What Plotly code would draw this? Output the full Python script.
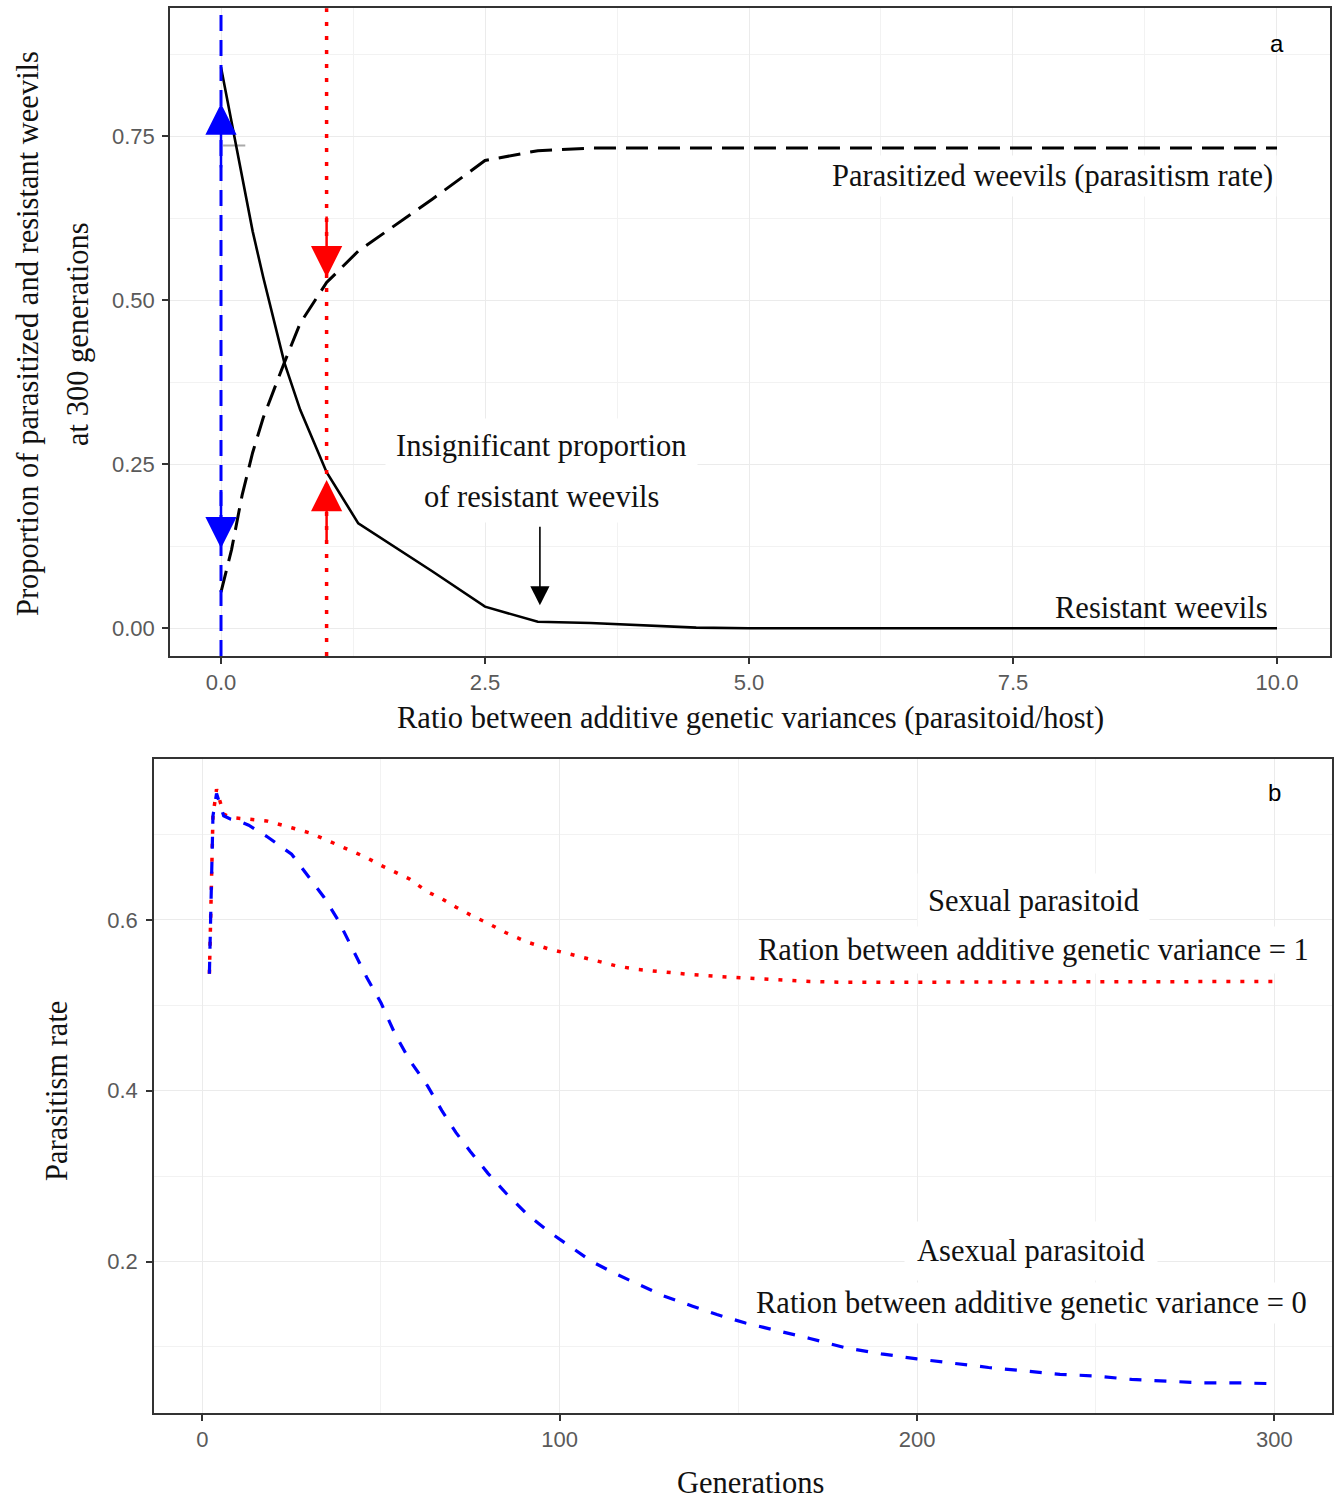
import plotly.graph_objects as go

# ---------------- Panel a data ----------------
ratio = [0, 0.1, 0.2, 0.3, 0.4, 0.5, 0.6, 0.75, 1.0, 1.3, 2.0, 2.5, 3.0, 3.5, 4.0, 4.5,
         5.0, 6.0, 7.0, 8.0, 9.0, 10.0]
resistant = [0.855, 0.772, 0.685, 0.605, 0.535, 0.468, 0.405, 0.333, 0.238, 0.160, 0.087,
             0.033, 0.010, 0.008, 0.004, 0.001, 0.0, 0.0, 0.0, 0.0, 0.0, 0.0]
parasitized = [0.055, 0.12, 0.203, 0.268, 0.321, 0.364, 0.405, 0.465, 0.527, 0.575, 0.654,
               0.713, 0.728, 0.732, 0.732, 0.732, 0.732, 0.732, 0.732, 0.732, 0.732, 0.732]
artifact_x = [0.02, 0.23]
artifact_y = [0.736, 0.736]

vline_asexual = 0
vline_sexual = 1

# arrows: (x, tail_y, head_y)
arrows_blue = [(0, 0.70, 0.80), (0, 0.21, 0.122)]
arrows_red = [(1, 0.63, 0.535), (1, 0.132, 0.226)]
arrow_black = (3.02, 0.157, 0.035)

a_xticks = [0, 2.5, 5.0, 7.5, 10.0]
a_yticks = [0.0, 0.25, 0.5, 0.75]

# ---------------- Panel b data ----------------
generations = [2, 3, 4, 5, 6, 8, 10, 13, 18, 25, 30, 34, 38, 42, 46, 50, 54, 58, 63, 67,
               71, 75, 80, 85, 91, 97, 103, 109, 116, 122, 129, 137, 144, 152, 160, 170,
               180, 190, 200, 210, 220, 230, 240, 250, 260, 270, 280, 290, 300]
asexual = [0.537, 0.722, 0.748, 0.735, 0.722, 0.718, 0.716, 0.711, 0.698, 0.677, 0.650,
           0.627, 0.600, 0.566, 0.533, 0.503, 0.466, 0.436, 0.406, 0.377, 0.351, 0.329,
           0.303, 0.280, 0.255, 0.235, 0.218, 0.200, 0.185, 0.173, 0.160, 0.148, 0.138,
           0.128, 0.120, 0.110, 0.099, 0.092, 0.086, 0.081, 0.076, 0.072, 0.068, 0.066,
           0.062, 0.060, 0.058, 0.058, 0.057]
sexual = [0.537, 0.722, 0.753, 0.738, 0.724, 0.720, 0.719, 0.718, 0.716, 0.708, 0.702,
          0.695, 0.688, 0.680, 0.673, 0.664, 0.656, 0.648, 0.633, 0.625, 0.615, 0.606,
          0.596, 0.585, 0.574, 0.566, 0.560, 0.554, 0.546, 0.542, 0.539, 0.536, 0.534,
          0.532, 0.530, 0.528, 0.527, 0.527, 0.527, 0.527, 0.527, 0.527, 0.527, 0.527,
          0.527, 0.527, 0.528, 0.528, 0.528]
b_xticks = [0, 100, 200, 300]
b_yticks = [0.2, 0.4, 0.6]

SERIF = "Liberation Serif"
SANS = "Liberation Sans"
FS = 30.5
W, H = 1339, 1500

fig = go.Figure()

# Panel a traces
fig.add_trace(go.Scatter(x=artifact_x, y=artifact_y, mode="lines",
                         line=dict(color="#AAAAAA", width=2), xaxis="x", yaxis="y",
                         showlegend=False, hoverinfo="skip"))
fig.add_trace(go.Scatter(x=ratio, y=resistant, mode="lines",
                         line=dict(color="black", width=2.6), xaxis="x", yaxis="y",
                         showlegend=False))
fig.add_trace(go.Scatter(x=ratio, y=parasitized, mode="lines",
                         line=dict(color="black", width=3, dash="22px,10px"),
                         xaxis="x", yaxis="y", showlegend=False))

# Panel b traces
fig.add_trace(go.Scatter(x=generations, y=sexual, mode="lines",
                         line=dict(color="#FF0000", width=3.5, dash="4px,10px"),
                         xaxis="x2", yaxis="y2", showlegend=False))
fig.add_trace(go.Scatter(x=generations, y=asexual, mode="lines",
                         line=dict(color="#0000FF", width=3.2, dash="12px,13px"),
                         xaxis="x2", yaxis="y2", showlegend=False))

# vertical lines panel a
fig.add_shape(type="line", xref="x", yref="y domain", x0=vline_asexual, x1=vline_asexual,
              y0=0, y1=1, line=dict(color="#0000FF", width=3, dash="16px,9px"))
fig.add_shape(type="line", xref="x", yref="y domain", x0=vline_sexual, x1=vline_sexual,
              y0=0, y1=1, line=dict(color="#FF0000", width=3.5, dash="4px,10px"))

ann = []


def arrow(x, tail, head, color, width, size):
    return dict(x=x, y=head, ax=x, ay=tail, xref="x", yref="y", axref="x", ayref="y",
                text="", showarrow=True, arrowhead=2, arrowcolor=color,
                arrowwidth=width, arrowsize=size, standoff=0, startstandoff=0)


for (x, t, h) in arrows_blue:
    ann.append(arrow(x, t, h, "#0000FF", 2.5, 2.5))
for (x, t, h) in arrows_red:
    ann.append(arrow(x, t, h, "#FF0000", 2.5, 2.5))
ann.append(arrow(arrow_black[0], arrow_black[1], arrow_black[2], "black", 1.6, 2.4))


def label(text, x, y, xref, yref, xanchor="center", bg=None, pad=4, size=FS):
    d = dict(text=text, x=x, y=y, xref=xref, yref=yref, xanchor=xanchor, yanchor="middle",
             showarrow=False, font=dict(family=SERIF, size=size, color="#111111"),
             borderpad=pad)
    if bg:
        d["bgcolor"] = bg
    return d


ann.append(label("Parasitized weevils (parasitism rate)", 10, 0.689, "x", "y",
                 xanchor="right", bg="white", pad=3))
ann.append(label("Resistant weevils", 9.96, 0.0305, "x", "y", xanchor="right"))
ann.append(label("Insignificant proportion", 3.035, 0.2774, "x", "y", bg="white", pad=10))
ann.append(label("of resistant weevils", 3.035, 0.1997, "x", "y", bg="white", pad=8))

ann.append(label("Sexual parasitoid", 232.5, 0.6225, "x2", "y2", bg="white", pad=10))
ann.append(label("Ration between additive genetic variance = 1", 232.5, 0.565, "x2", "y2",
                 bg="white", pad=6))
ann.append(label("Asexual parasitoid", 232.0, 0.212, "x2", "y2", bg="white", pad=12))
ann.append(label("Ration between additive genetic variance = 0", 232.0, 0.152, "x2", "y2",
                 bg="white", pad=3))

# panel tags
ann.append(dict(text="a", x=10, y=0.892, xref="x", yref="y", showarrow=False,
                font=dict(family=SANS, size=24, color="black")))
ann.append(dict(text="b", x=300, y=0.7487, xref="x2", yref="y2", showarrow=False,
                font=dict(family=SANS, size=24, color="black")))

# axis titles (paper coords)
ann.append(dict(text="Proportion of parasitized and resistant weevils", x=28 / W,
                y=1 - 334 / H, xref="paper", yref="paper", textangle=-90, showarrow=False,
                xanchor="center", yanchor="middle",
                font=dict(family=SERIF, size=FS, color="#111111")))
ann.append(dict(text="at 300 generations", x=78 / W, y=1 - 334 / H, xref="paper",
                yref="paper", textangle=-90, showarrow=False, xanchor="center",
                yanchor="middle", font=dict(family=SERIF, size=FS, color="#111111")))
ann.append(dict(text="Ratio between additive genetic variances (parasitoid/host)",
                x=750.5 / W, y=1 - 718 / H, xref="paper", yref="paper", showarrow=False,
                xanchor="center", yanchor="middle",
                font=dict(family=SERIF, size=FS, color="#111111")))
ann.append(dict(text="Parasitism rate", x=57 / W, y=1 - 1091 / H, xref="paper",
                yref="paper", textangle=-90, showarrow=False, xanchor="center",
                yanchor="middle", font=dict(family=SERIF, size=FS, color="#111111")))
ann.append(dict(text="Generations", x=750 / W, y=1 - 1483 / H, xref="paper", yref="paper",
                showarrow=False, xanchor="center", yanchor="middle",
                font=dict(family=SERIF, size=FS, color="#111111")))

axis_common = dict(showline=True, mirror=True, linecolor="#333333", linewidth=1.5,
                   ticks="outside", ticklen=6, tickwidth=1.5, tickcolor="#333333",
                   showgrid=True, gridcolor="#EBEBEB", gridwidth=1.3, zeroline=False,
                   tickfont=dict(family=SANS, size=22, color="#5A5A5A"))

fig.update_layout(
    width=W, height=H, margin=dict(l=0, r=0, t=0, b=0),
    paper_bgcolor="white", plot_bgcolor="white", showlegend=False,
    xaxis=dict(domain=[170 / W, 1330 / W], range=[-0.483, 10.502], anchor="y",
               tickvals=a_xticks, tickformat=".1f", ticklabelstandoff=0,
               minor=dict(dtick=1.25, tick0=0, showgrid=True, gridcolor="#F2F2F2",
                          gridwidth=1), **axis_common),
    yaxis=dict(domain=[1 - 656 / H, 1 - 8.3 / H], range=[-0.0422, 0.945], anchor="x",
               tickvals=a_yticks, tickformat=".2f", ticklabelstandoff=3,
               minor=dict(dtick=0.125, tick0=0, showgrid=True, gridcolor="#F2F2F2",
                          gridwidth=1), **axis_common),
    xaxis2=dict(domain=[154 / W, 1332 / W], range=[-13.5, 316.1], anchor="y2",
                tickvals=b_xticks, tickformat="d", ticklabelstandoff=0,
                minor=dict(dtick=50, tick0=0, showgrid=True, gridcolor="#F2F2F2",
                           gridwidth=1), **axis_common),
    yaxis2=dict(domain=[1 - 1413 / H, 1 - 759 / H], range=[0.0227, 0.7885], anchor="x2",
                tickvals=b_yticks, tickformat=".1f", ticklabelstandoff=4,
                minor=dict(dtick=0.1, tick0=0, showgrid=True, gridcolor="#F2F2F2",
                           gridwidth=1), **axis_common),
    annotations=ann,
)

fig.write_html("out.html", config={"displayModeBar": False},
               post_script="document.body.style.margin='0';")
